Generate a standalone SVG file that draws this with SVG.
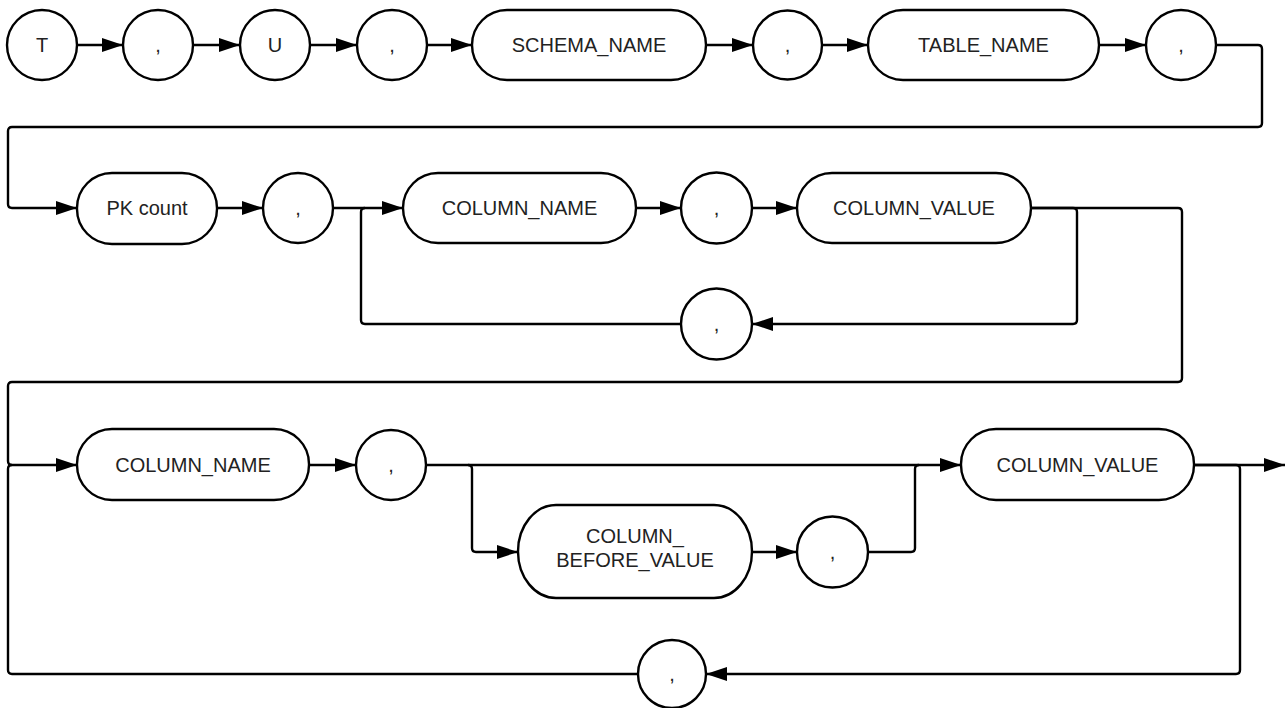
<svg xmlns="http://www.w3.org/2000/svg" width="1286" height="708" viewBox="0 0 1286 708">
<defs>
<marker id="ah" markerUnits="userSpaceOnUse" markerWidth="21" markerHeight="14" refX="21" refY="7" orient="auto">
<path d="M0,0 L21,7 L0,14 z" fill="#000"/>
</marker>
<style>
.n{fill:#fff;stroke:#000;stroke-width:2.4}
.t{font-family:"Liberation Sans",Arial,sans-serif;font-size:20px;fill:#222;text-anchor:middle}
.c{fill:none;stroke:#000;stroke-width:2.4}
.a{marker-end:url(#ah)}
</style>
</defs>
<rect width="1286" height="708" fill="#fff"/>
<g id="connectors">
<path class="c a" d="M77,45 H123"/>
<path class="c a" d="M193,45 H240"/>
<path class="c a" d="M310,45 H357"/>
<path class="c a" d="M427,45 H472"/>
<path class="c a" d="M706,45 H753"/>
<path class="c a" d="M822,45 H868"/>
<path class="c a" d="M1099,45 H1146"/>
<path class="c a" d="M1216,45 H1258 Q1262,45 1262,49 V123 Q1262,127 1258,127 H12 Q8,127 8,131 V204 Q8,208 12,208 H77"/>
<path class="c a" d="M217,208 H263"/>
<path class="c a" d="M333,208 H403"/>
<path class="c" d="M681,324 H365 Q361,324 361,320 V212 Q361,208 365,208"/>
<path class="c a" d="M636,208 H681"/>
<path class="c a" d="M752,208 H797"/>
<path class="c a" d="M1031,208 H1178 Q1182,208 1182,212 V378 Q1182,382 1178,382 H12 Q8,382 8,386 V461 Q8,465 12,465 H77"/>
<path class="c a" d="M1031,208 H1073 Q1077,208 1077,212 V320 Q1077,324 1073,324 H752"/>
<path class="c a" d="M309,465 H356"/>
<path class="c a" d="M426,465 H961"/>
<path class="c a" d="M468,465 Q472,465 472,469 V548 Q472,552 476,552 H518"/>
<path class="c a" d="M752,552 H797"/>
<path class="c" d="M868,552 H911 Q915,552 915,548 V469 Q915,465 919,465"/>
<path class="c a" d="M1194,465 H1285"/>
<path class="c a" d="M1194,465 H1236 Q1240,465 1240,469 V670 Q1240,674 1236,674 H706"/>
<path class="c" d="M638,674 H12 Q8,674 8,670 V469 Q8,465 12,465"/>
</g>
<g id="n_T"><circle class="n" cx="42" cy="45" r="35"/><text class="t" x="42" y="52">T</text></g>
<g id="n_c1"><circle class="n" cx="158" cy="45" r="35"/><text class="t" x="158" y="52">,</text></g>
<g id="n_U"><circle class="n" cx="275" cy="45" r="35"/><text class="t" x="275" y="52">U</text></g>
<g id="n_c2"><circle class="n" cx="392" cy="45" r="35"/><text class="t" x="392" y="52">,</text></g>
<g id="n_schema"><rect class="n" x="472" y="10" width="234" height="70" rx="35"/><text class="t" x="589" y="52">SCHEMA_NAME</text></g>
<g id="n_c3"><circle class="n" cx="787.5" cy="45" r="34.5"/><text class="t" x="787.5" y="52">,</text></g>
<g id="n_table"><rect class="n" x="868" y="10" width="231" height="70" rx="35"/><text class="t" x="983.5" y="52">TABLE_NAME</text></g>
<g id="n_c4"><circle class="n" cx="1181" cy="45" r="35"/><text class="t" x="1181" y="52">,</text></g>
<g id="n_pk"><rect class="n" x="77" y="173" width="140" height="71" rx="35"/><text class="t" x="147" y="215">PK count</text></g>
<g id="n_c5"><circle class="n" cx="298" cy="208" r="35"/><text class="t" x="298" y="215">,</text></g>
<g id="n_colname1"><rect class="n" x="403" y="173" width="233" height="70" rx="35"/><text class="t" x="519.5" y="215">COLUMN_NAME</text></g>
<g id="n_c6"><circle class="n" cx="716.5" cy="208" r="35.5"/><text class="t" x="716.5" y="215">,</text></g>
<g id="n_colval1"><rect class="n" x="797" y="173" width="234" height="70" rx="35"/><text class="t" x="914" y="215">COLUMN_VALUE</text></g>
<g id="n_c7"><circle class="n" cx="716.5" cy="324" r="35.5"/><text class="t" x="716.5" y="331">,</text></g>
<g id="n_colname2"><rect class="n" x="77" y="429" width="232" height="71" rx="35"/><text class="t" x="193" y="472">COLUMN_NAME</text></g>
<g id="n_c8"><circle class="n" cx="391" cy="465" r="35"/><text class="t" x="391" y="472">,</text></g>
<g id="n_colbefore"><rect class="n" x="518" y="505" width="234" height="93" rx="38" ry="46.5"/><text class="t" x="635" y="543">COLUMN_</text><text class="t" x="635" y="567">BEFORE_VALUE</text></g>
<g id="n_c9"><circle class="n" cx="832.5" cy="552" r="35.5"/><text class="t" x="832.5" y="559">,</text></g>
<g id="n_colval2"><rect class="n" x="961" y="429" width="233" height="71" rx="35"/><text class="t" x="1077.5" y="472">COLUMN_VALUE</text></g>
<g id="n_c10"><circle class="n" cx="672" cy="674" r="34"/><text class="t" x="672" y="681">,</text></g>
</svg>
